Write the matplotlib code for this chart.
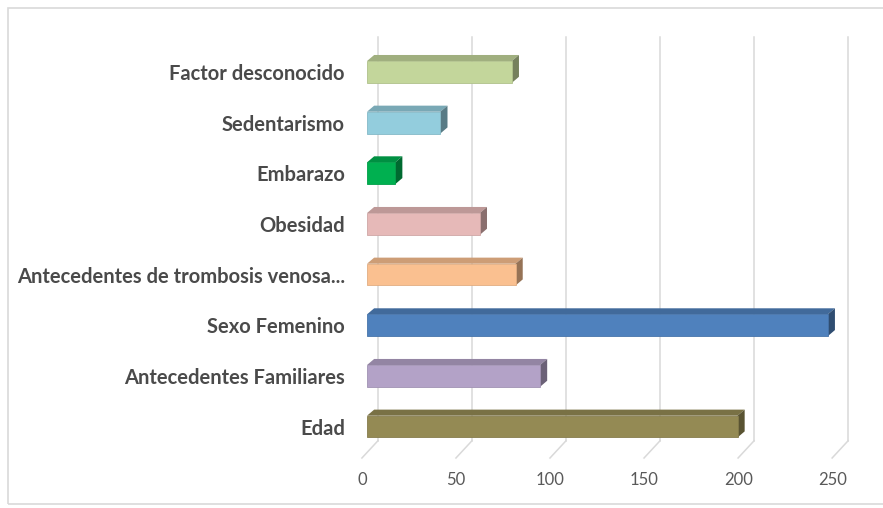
import matplotlib.pyplot as plt
import matplotlib.colors as mcolors
from matplotlib.patches import Polygon, Rectangle
from matplotlib.transforms import ScaledTranslation
import numpy as np

# data, bottom to top as drawn
categories = ['Edad', 'Antecedentes Familiares', 'Sexo Femenino',
              'Antecedentes de trombosis venosa...', 'Obesidad', 'Embarazo',
              'Sedentarismo', 'Factor desconocido']
values = [197, 92, 245, 79, 60, 15, 39, 77]
colors = ['#948a54', '#b3a2c7', '#4f81bd', '#fac090', '#e6b9b8', '#00b050',
          '#93cddd', '#c3d69b']
xticks = [0, 50, 100, 150, 200, 250]


def shade(c, f):
    r, g, b = mcolors.to_rgb(c)
    return (r * f, g * f, b * f)


fig = plt.figure(figsize=(8.83, 5.08), dpi=100)
fig.patches.append(Rectangle((8 / 883, 4 / 508), 1.0, 496 / 508,
                             transform=fig.transFigure, fill=False,
                             edgecolor='#d9d9d9', linewidth=1.2))

ax = fig.add_axes([367 / 883, 50 / 508, 489 / 883, 421 / 508])
ax.set_xlim(0, 260)
ax.set_ylim(-0.62, 7.69)
for s in ax.spines.values():
    s.set_visible(False)

# 3d-ish offsets in data units
back_dx = 5.8     # back wall
front_dx = -2.7   # front edge of the floor
floor_back = -0.28
floor_front = -0.62
bar_h = 0.43
dx, dy = 3.8, 0.12

for v in xticks:
    ax.plot([v + back_dx, v + back_dx], [7.69, floor_back],
            color='#d9d9d9', lw=1.1, zorder=0, clip_on=False)
    ax.plot([v + back_dx, v + front_dx], [floor_back, floor_front],
            color='#d9d9d9', lw=1.1, zorder=0, clip_on=False)

ypos = np.arange(len(categories))
for y, v, c in zip(ypos, values, colors):
    ax.barh(y, v, height=bar_h, color=c, edgecolor=shade(c, 0.9),
            linewidth=0.6, zorder=3)
    top = y + bar_h / 2
    bot = y - bar_h / 2
    ax.add_patch(Polygon([(0, top), (v, top), (v + dx, top + dy), (dx, top + dy)],
                         closed=True, facecolor=shade(c, 0.82),
                         edgecolor='none', zorder=2))
    ax.add_patch(Polygon([(v, bot), (v + dx, bot + dy), (v + dx, top + dy), (v, top)],
                         closed=True, facecolor=shade(c, 0.6),
                         edgecolor='none', zorder=2))

ax.set_yticks(ypos)
ax.set_yticklabels(categories, family='Lato', fontweight='bold',
                   fontsize=14.5, color='#4a4a4a')
ax.tick_params(axis='y', length=0, pad=16)

ax.set_xticks(xticks)
ax.set_xticklabels([str(t) for t in xticks], family='Lato', fontsize=12,
                   color='#595959')
ax.tick_params(axis='x', length=0, pad=10)
off = ScaledTranslation(-5 / 100, 0, fig.dpi_scale_trans)
for lab in ax.get_xticklabels():
    lab.set_transform(lab.get_transform() + off)

fig.savefig('out.png', dpi=100)
